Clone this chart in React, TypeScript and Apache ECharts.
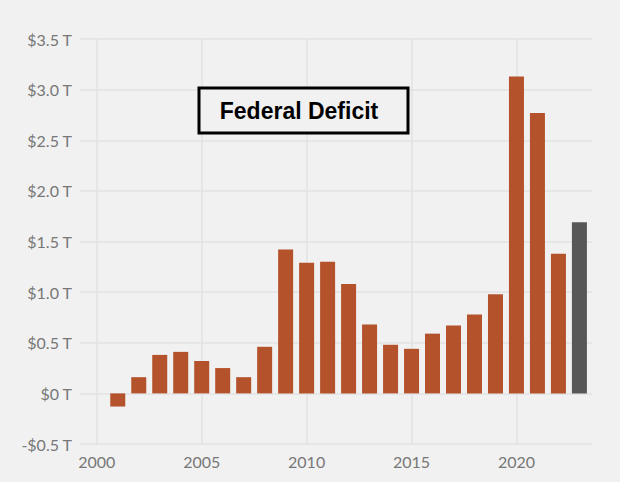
import React, { useEffect, useRef } from "react";
import * as echarts from "echarts";

const years = [2001, 2002, 2003, 2004, 2005, 2006, 2007, 2008, 2009, 2010, 2011, 2012, 2013, 2014, 2015, 2016, 2017, 2018, 2019, 2020, 2021, 2022, 2023];
const deficits = [-0.13, 0.16, 0.38, 0.41, 0.32, 0.25, 0.16, 0.46, 1.42, 1.29, 1.3, 1.08, 0.68, 0.48, 0.44, 0.59, 0.67, 0.78, 0.98, 3.13, 2.77, 1.38, 1.69];
const highlightYear = 2023;
const xTicks = [2000, 2005, 2010, 2015, 2020];
const titleText = "Federal Deficit";

export default function App() {
  const ref = useRef<HTMLDivElement>(null);
  useEffect(() => {
    if (!ref.current) return;
    const chart = echarts.init(ref.current, null, { renderer: "svg" });
    const data = years.map((y, i) => ({
      value: [y, deficits[i]],
      itemStyle: { color: y === highlightYear ? "#575757" : "#b4522c" },
    }));
    chart.setOption({
      animation: false,
      backgroundColor: "#f1f1f1",
      grid: { left: 80, right: 28, top: 39, bottom: 38 },
      xAxis: {
        type: "value",
        min: 1999.2,
        max: 2023.6,
        axisLine: { show: false },
        axisTick: { show: false, customValues: xTicks },
        axisLabel: {
          customValues: xTicks,
          color: "#777",
          fontFamily: "Lato",
          fontSize: 16,
          margin: 9,
          formatter: (v: number) => String(v),
        },
        splitLine: { show: true, lineStyle: { color: "#e2e2e2", width: 1.5 } },
      },
      yAxis: {
        type: "value",
        min: -0.5,
        max: 3.5,
        interval: 0.5,
        axisLine: { show: false },
        axisTick: { show: false },
        axisLabel: {
          color: "#777",
          fontFamily: "Lato",
          fontSize: 16,
          margin: 8,
          formatter: (v: number) => {
            if (Math.abs(v) < 1e-9) return "$0 T";
            return (v < 0 ? "-" : "") + "$" + Math.abs(v).toFixed(1) + " T";
          },
        },
        splitLine: { show: true, lineStyle: { color: "#e2e2e2", width: 1.5 } },
      },
      series: [
        {
          type: "bar",
          barWidth: 15,
          data,
        },
      ],
      graphic: [
        {
          type: "rect",
          shape: { x: 199, y: 88, width: 209, height: 45 },
          style: { fill: "#f1f1f1", stroke: "#000", lineWidth: 3 },
          z: 10,
        },
        {
          type: "text",
          x: 299,
          y: 111,
          style: {
            text: titleText,
            fontFamily: "Liberation Sans, Arial",
            fontWeight: "bold",
            fontSize: 23,
            fill: "#000",
            align: "center",
            verticalAlign: "middle",
          },
          z: 11,
        },
      ],
    });
    return () => chart.dispose();
  }, []);
  return <div ref={ref} style={{ position: "fixed", left: 0, top: 0, width: 620, height: 482 }} />;
}
